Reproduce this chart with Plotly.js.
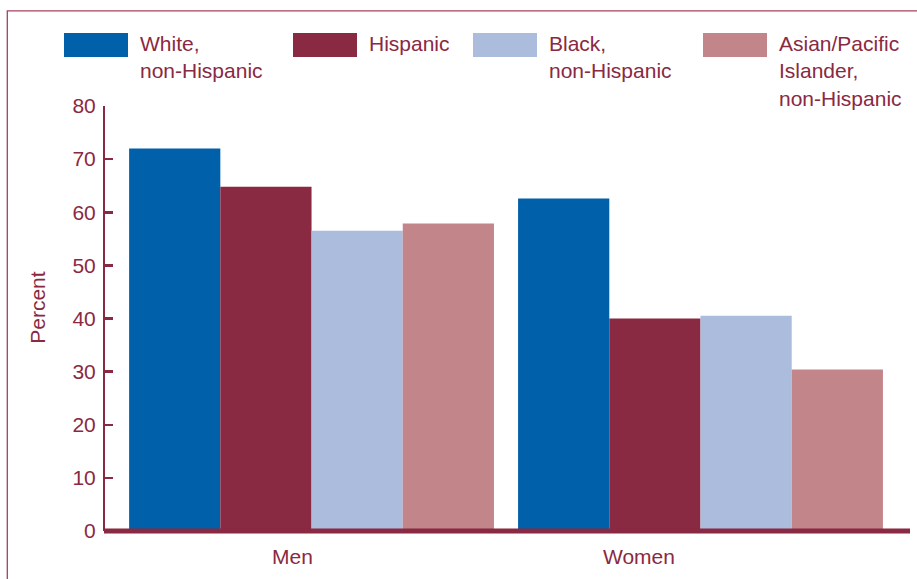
<!DOCTYPE html>
<html>
<head>
<meta charset="utf-8">
<script src="https://cdn.plot.ly/plotly-3.0.1.min.js"></script>
<style>html,body{margin:0;padding:0;background:#fff;}#chart{width:917px;height:579px;}</style>
</head>
<body>
<div id="chart"></div>
<script>
// ---- data ----
const categories = ['Men', 'Women'];
const seriesNames = ['White,<br>non-Hispanic', 'Hispanic', 'Black,<br>non-Hispanic', 'Asian/Pacific<br>Islander,<br>non-Hispanic'];
const whiteNH = [72.0, 62.6];
const hispanic = [64.8, 40.0];
const blackNH = [56.5, 40.5];
const asianPI = [57.9, 30.4];
const yTicks = [0, 10, 20, 30, 40, 50, 60, 70, 80];
const yTitle = 'Percent';

// ---- style ----
const seriesValues = [whiteNH, hispanic, blackNH, asianPI];
const colors = ['#0060A9', '#8A2942', '#ABBCDD', '#C1858A'];
const maroon = '#8A2942';
const FONT = '"Liberation Sans", Arial, Helvetica, sans-serif';
const FS = 21;

const W = 917, H = 579;
const L = 105, R = 7, T = 106, B = 47.5;
const PW = W - L - R, PH = H - T - B;
const px2x = p => (p - L) / PW;
const px2y = p => (H - B - p) / PH;

const traces = seriesValues.map((vals, i) => ({
  type: 'bar',
  x: categories,
  y: vals,
  name: seriesNames[i],
  marker: { color: colors[i], line: { width: 0 } },
  showlegend: false,
  hoverinfo: 'x+y'
}));

// legend (drawn manually to match wide swatches)
const legendSwatchX = [64, 293, 473, 703];
const shapes = [];
const annotations = [];
seriesNames.forEach((n, i) => {
  shapes.push({
    type: 'rect', xref: 'paper', yref: 'paper',
    x0: px2x(legendSwatchX[i]), x1: px2x(legendSwatchX[i] + 64),
    y0: px2y(57), y1: px2y(33),
    fillcolor: colors[i], line: { width: 0 }
  });
  annotations.push({
    xref: 'paper', yref: 'paper',
    x: px2x(legendSwatchX[i] + 74), y: px2y(30),
    xanchor: 'left', yanchor: 'top', align: 'left',
    text: n, showarrow: false,
    font: { family: FONT, size: FS, color: maroon }
  });
});

// category labels
const catShift = [-19.5, -61.5];
categories.forEach((c, i) => {
  annotations.push({
    x: c, xref: 'x', y: 0, yref: 'paper',
    xanchor: 'center', yanchor: 'top', yshift: -12, xshift: catShift[i],
    text: c, showarrow: false,
    font: { family: FONT, size: FS, color: maroon }
  });
});

// y title
annotations.push({
  xref: 'paper', yref: 'paper', x: px2x(38), y: px2y(308),
  xanchor: 'center', yanchor: 'middle', textangle: -90,
  text: yTitle, showarrow: false,
  font: { family: FONT, size: FS, color: maroon }
});

// baseline (thick x axis line at y = 0, the bottom of the plot area)
shapes.push({
  type: 'line', xref: 'paper', yref: 'paper', x0: px2x(104), x1: 1, y0: 0, y1: 0,
  line: { color: maroon, width: 5 }, layer: 'above'
});
// outer frame (top and left)
shapes.push({
  type: 'path', xref: 'paper', yref: 'paper',
  path: `M ${px2x(7.3)} ${px2y(590)} L ${px2x(7.3)} ${px2y(10.7)} L ${px2x(930)} ${px2y(10.7)}`,
  line: { color: '#A5425C', width: 1.3 }, layer: 'above'
});

const layout = {
  width: W, height: H,
  margin: { l: L, r: R, t: T, b: B, pad: 0 },
  paper_bgcolor: '#fff', plot_bgcolor: '#fff',
  font: { family: FONT, size: FS, color: maroon },
  barmode: 'group', bargap: 0.062, bargroupgap: 0,
  xaxis: {
    type: 'category', range: [-0.531, 1.5386],
    showline: false, showgrid: false, zeroline: false,
    ticks: '', showticklabels: false, fixedrange: true
  },
  yaxis: {
    range: [0, 80], tickvals: yTicks, ticktext: yTicks.map(String),
    showline: true, linecolor: maroon, linewidth: 2,
    ticks: 'inside', ticklen: 8, tickwidth: 2.5, tickcolor: maroon,
    showgrid: false, zeroline: false, ticklabelstandoff: 3,
    tickfont: { family: FONT, size: FS, color: maroon }, fixedrange: true
  },
  shapes: shapes,
  annotations: annotations,
  showlegend: false
};

Plotly.newPlot('chart', traces, layout, { displayModeBar: false, staticPlot: true });
</script>
</body>
</html>
